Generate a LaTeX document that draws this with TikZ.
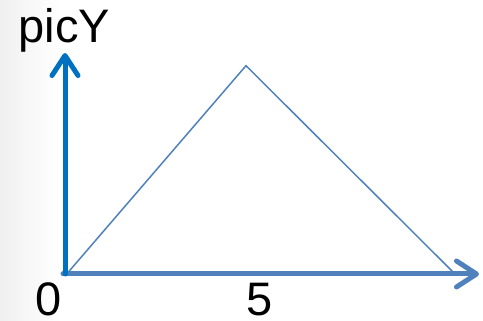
\documentclass[tikz,border=0pt]{standalone}
\usepackage{fontspec}
\setmainfont{Liberation Sans}
\usetikzlibrary{arrows.meta}
\definecolor{axisY}{HTML}{0070C0}
\definecolor{axisX}{HTML}{4F81BD}
\definecolor{triC}{HTML}{4F81BD}
\tikzset{
  axisline/.style={line width=5pt, line cap=round, -{Straight Barb[length=20pt,width=26pt,line cap=round,line join=round]}},
  triline/.style={draw=triC, line width=1.5pt, line join=miter},
  lbl/.style={inner sep=0pt, anchor=base, font=\fontsize{47pt}{50pt}\selectfont}
}
\begin{document}
\begin{tikzpicture}[x=1pt,y=1pt]
  \useasboundingbox (0,0) rectangle (483,321);
  \shade[left color=black!6, right color=white, draw=none] (0,0) rectangle (60,321);
  \coordinate (O) at (65,47);
  \coordinate (Ytip) at (65,268);
  \coordinate (Xtip) at (479,47);
  \coordinate (A) at (66.7,47);
  \coordinate (B) at (246,255.3);
  \coordinate (C) at (455,47);
  \draw[triline] (A) -- (B) -- (C);
  \draw[axisline, draw=axisX] (63,47) -- (Xtip);
  \draw[axisline, draw=axisY] (O) -- (Ytip);
  \node[lbl] (picY) at (64.5,278) {picY};
  \node[lbl] (zero) at (49,5.5) {0};
  \node[lbl] (five) at (260,5.5) {5};
\end{tikzpicture}
\end{document}
